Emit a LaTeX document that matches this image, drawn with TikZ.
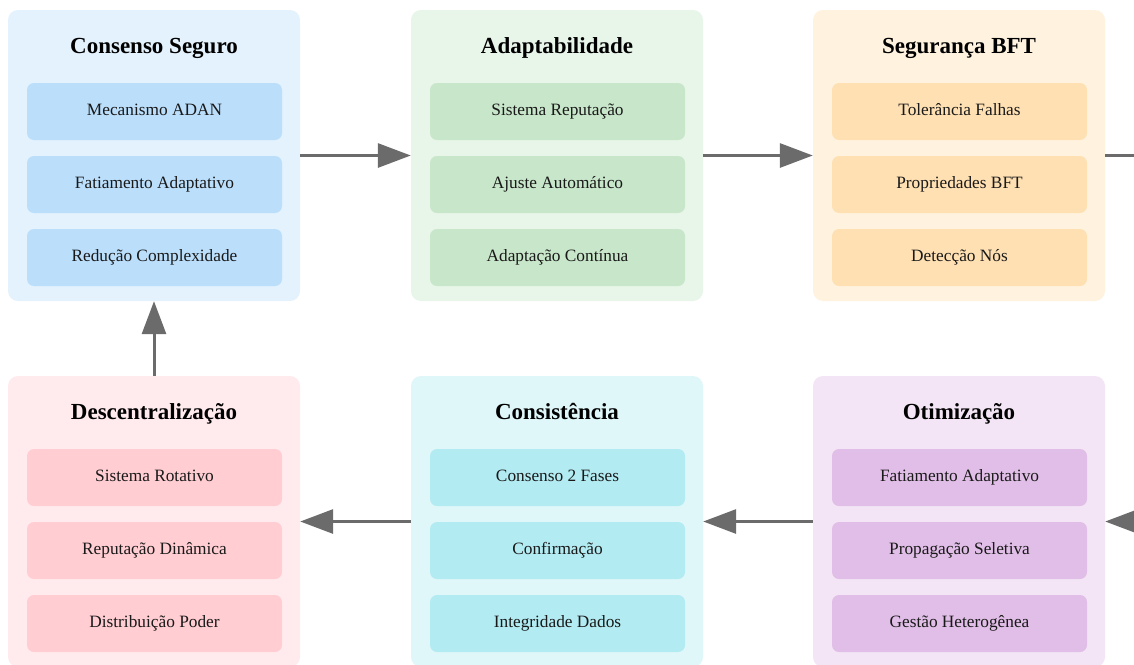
\documentclass[tikz,border=0pt]{standalone}
\usepackage{fontspec}
\setmainfont{Liberation Serif}
\usetikzlibrary{arrows.meta,positioning}

\definecolor{blueA}{HTML}{E3F2FD}\definecolor{blueB}{HTML}{BBDEFB}
\definecolor{greenA}{HTML}{E8F5E9}\definecolor{greenB}{HTML}{C8E6C9}
\definecolor{orangeA}{HTML}{FFF3E0}\definecolor{orangeB}{HTML}{FFE0B2}
\definecolor{purpleA}{HTML}{F3E5F5}\definecolor{purpleB}{HTML}{E1BEE7}
\definecolor{cyanA}{HTML}{E0F7FA}\definecolor{cyanB}{HTML}{B2EBF2}
\definecolor{pinkA}{HTML}{FFEBEE}\definecolor{pinkB}{HTML}{FFCDD2}
\definecolor{flow}{HTML}{6B6B6B}

\tikzset{
  card/.style={rounded corners=10pt, minimum width=292pt, minimum height=291pt,
    inner sep=0pt, draw=none},
  cardtitle/.style={font=\fontsize{23}{27}\selectfont\bfseries, inner sep=0pt,
    text height=16pt, text depth=4pt},
  item/.style={rounded corners=7pt, minimum width=255pt, minimum height=57pt,
    inner sep=0pt, draw=none, font=\fontsize{17.3}{20}\selectfont, text=black!90,
    text height=11pt, text depth=4pt},
  link/.style={draw=flow, line width=3pt,
    -{Triangle[length=33pt,width=24pt]}},
}

% one stage: name, centre x, centre y, card colour, item colour, title, three items
\newcommand\stageblock[9]{%
  \node[card, fill=#4] (#1) at (#2,#3) {};
  \node[cardtitle] (#1-t) at (#2,#3-108.5) {#6};
  \node[item, fill=#5] (#1-a) at (#2+0.5,#3-44) {#7};
  \node[item, fill=#5] (#1-b) at (#2+0.5,#3+29) {#8};
  \node[item, fill=#5] (#1-c) at (#2+0.5,#3+102) {#9};
}

\begin{document}
\begin{tikzpicture}[x=1pt,y=-1pt]
  \useasboundingbox (0,0) rectangle (1134,664);
  \clip (0,0) rectangle (1134,664);
  \fill[white] (0,0) rectangle (1134,664);

  \stageblock{cs}{154}{155.5}{blueA}{blueB}{Consenso Seguro}
    {Mecanismo ADAN}{Fatiamento Adaptativo}{Redução Complexidade}
  \stageblock{ad}{557}{155.5}{greenA}{greenB}{Adaptabilidade}
    {Sistema Reputação}{Ajuste Automático}{Adaptação Contínua}
  \stageblock{bft}{959}{155.5}{orangeA}{orangeB}{Segurança BFT}
    {Tolerância Falhas}{Propriedades BFT}{Detecção Nós}
  \stageblock{ot}{959}{521.5}{purpleA}{purpleB}{Otimização}
    {Fatiamento Adaptativo}{Propagação Seletiva}{Gestão Heterogênea}
  \stageblock{co}{557}{521.5}{cyanA}{cyanB}{Consistência}
    {Consenso 2 Fases}{Confirmação}{Integridade Dados}
  \stageblock{de}{154}{521.5}{pinkA}{pinkB}{Descentralização}
    {Sistema Rotativo}{Reputação Dinâmica}{Distribuição Poder}

  \coordinate (turn) at (1200,155.5);

  \draw[link] (cs.east) -- (ad.west);
  \draw[link] (ad.east) -- (bft.west);
  \draw[link] (bft.east) -- (turn) |- (ot.east);
  \draw[link] (ot.west) -- (co.east);
  \draw[link] (co.west) -- (de.east);
  \draw[link] (de.north) -- (cs.south);
\end{tikzpicture}
\end{document}
